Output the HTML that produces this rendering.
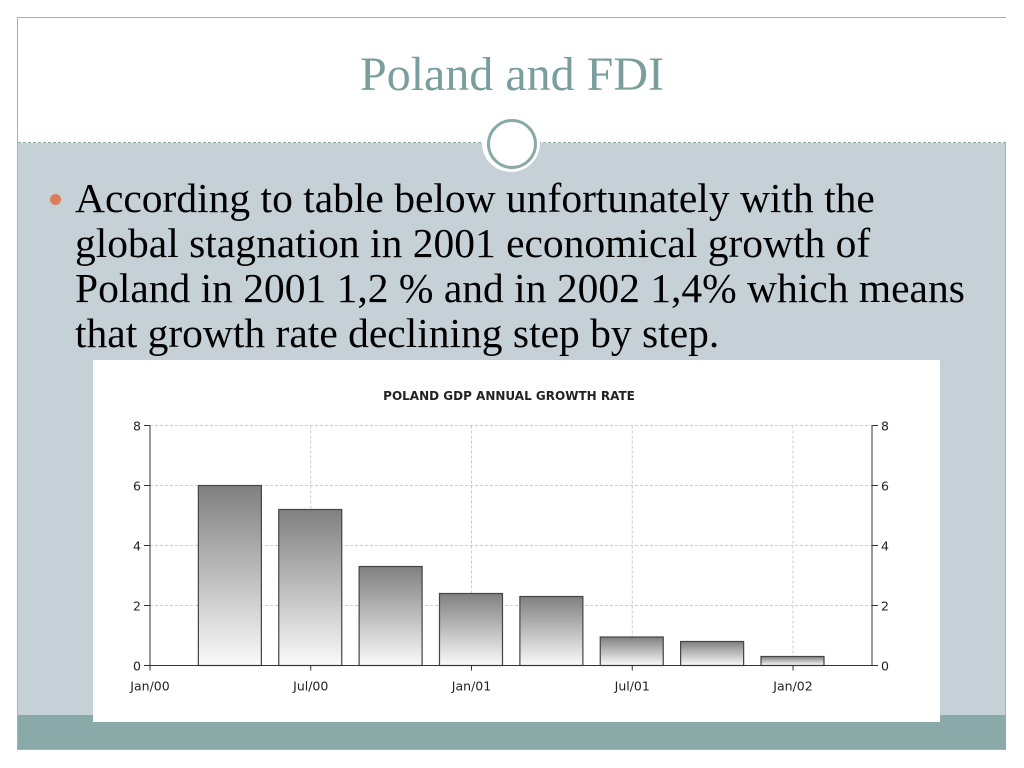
<!DOCTYPE html>
<html><head><meta charset="utf-8"><style>
body{margin:0;width:1024px;height:768px;background:#fff;position:relative;overflow:hidden;font-family:"Liberation Serif",serif}
.abs{position:absolute}
</style></head><body>
<div class="abs" style="left:17px;top:17px;width:989px;height:733px;border:1px solid #9fb4b8;box-sizing:border-box;background:#c5d1d7"></div>
<div class="abs" style="left:18px;top:18px;width:988px;height:125px;background:#fff"></div>
<div class="abs" style="left:18px;top:142px;width:988px;border-top:1px dashed #8aa9a9"></div>
<div class="abs" style="left:0;top:47px;width:1024px;text-align:center;font-size:48px;color:#7a9d9d">Poland and FDI</div>
<div class="abs" style="left:482px;top:114px;width:58px;height:58px;border-radius:50%;background:#fff"></div>
<div class="abs" style="left:487px;top:119px;width:44px;height:44px;border-radius:50%;border:3px solid #8aa9a9;background:#fff"></div>
<div class="abs" style="left:18px;top:715px;width:988px;height:34px;background:#8aa9a9"></div>
<div class="abs" style="left:50px;top:194px;width:11px;height:11px;border-radius:50%;background:#e07b5a"></div>
<div class="abs" style="left:75px;top:176px;width:890px;font-size:41.5px;line-height:45px;color:#000">According to table below unfortunately with the global stagnation in 2001 economical growth of Poland in 2001 1,2 % and in 2002 1,4% which means that growth rate declining step by step.</div>
<svg class="abs" style="left:93px;top:360px" width="847" height="362">
<defs><linearGradient id="g" x1="0" y1="0" x2="0" y2="1"><stop offset="0" stop-color="#808080"/><stop offset="1" stop-color="#fafafa"/></linearGradient></defs>
<rect width="847" height="362" fill="#fff"/>
<text x="416" y="40" text-anchor="middle" font-family="DejaVu Sans,sans-serif" font-size="12" font-weight="bold" fill="#222">POLAND GDP ANNUAL GROWTH RATE</text>
<g id="chart"></g>
</svg>
<script>
const categories=["Q1 2000","Q2 2000","Q3 2000","Q4 2000","Q1 2001","Q2 2001","Q3 2001","Q4 2001"];
const values=[6.0,5.2,3.3,2.4,2.3,0.95,0.8,0.3];
const yTicks=[0,2,4,6,8];
const xLabels=["Jan/00","Jul/00","Jan/01","Jul/01","Jan/02"];
const NS="http://www.w3.org/2000/svg";
const g=document.getElementById('chart');
const L=57,R=779,Y0=305.5,Y8=65.5;
const y=v=>Y0-(v/8)*(Y0-Y8);
const qw=(793-150)/8;
const xq=i=>L+qw*i;
function el(t,a){const e=document.createElementNS(NS,t);for(const k in a)e.setAttribute(k,a[k]);g.appendChild(e);return e;}
yTicks.forEach(v=>{
 if(v>0){const l=el('line',{x1:L,x2:R,y1:y(v),y2:y(v),stroke:'#ccc','stroke-dasharray':'3,2'});
 
 }
 [[L,-1],[R,1]].forEach(([x,d])=>{
  el('line',{x1:x,x2:x+6*d,y1:y(v),y2:y(v),stroke:'#333'});
  const t=el('text',{x:x+(d<0?-9:9),y:y(v)+5,'text-anchor':d<0?'end':'start','font-family':'DejaVu Sans,sans-serif','font-size':'12.5',fill:'#222'});
  t.textContent=v;
  
  
 });
});
xLabels.forEach((s,i)=>{
 const x=xq(i*2);
 if(i>0){const l=el('line',{x1:x,x2:x,y1:Y8,y2:Y0,stroke:'#ccc','stroke-dasharray':'3,2'});
 
 }
 el('line',{x1:x,x2:x,y1:Y0,y2:Y0+5,stroke:'#333'});
 const t=el('text',{x:x,y:Y0+25,'text-anchor':'middle','font-family':'DejaVu Sans,sans-serif','font-size':'12.5',fill:'#222'});
 t.textContent=s;
 
 
});
values.forEach((v,i)=>{
 const cx=xq(i+1)-0.5;
 const r=el('rect',{x:cx-31.5,y:y(v),width:63,height:Y0-y(v),fill:'url(#g)',stroke:'#444','stroke-width':1.2});
 
 
});
el('line',{x1:L,x2:L,y1:Y8,y2:Y0,stroke:'#333'});
el('line',{x1:R,x2:R,y1:Y8,y2:Y0,stroke:'#333'});
el('line',{x1:L,x2:R,y1:Y0,y2:Y0,stroke:'#333'});
</script>
</body></html>
